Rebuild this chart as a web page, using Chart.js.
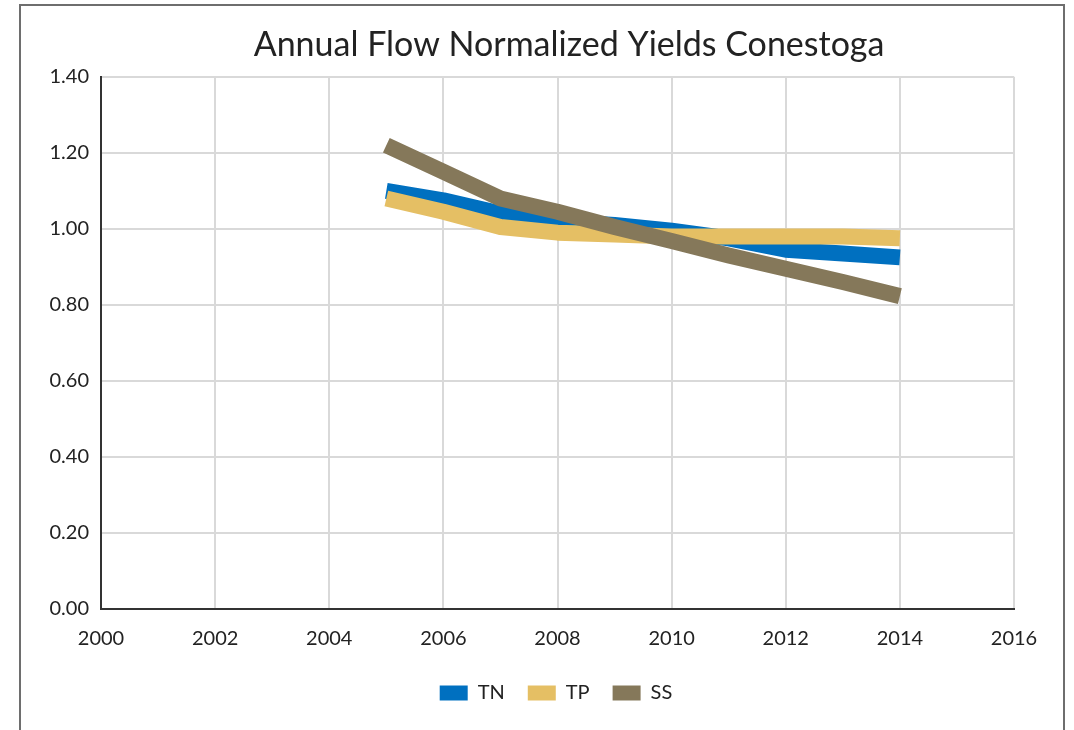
<!DOCTYPE html>
<html>
<head>
<meta charset="utf-8">
<script src="https://cdn.jsdelivr.net/npm/chart.js@4/dist/chart.umd.min.js"></script>
<style>
  html, body { margin: 0; padding: 0; background: #fff; overflow: hidden; width: 1074px; height: 730px; }
  #frame { position: absolute; left: 19px; top: 4px; width: 1046px; height: 760px; border: 2px solid #6e6e6e; box-sizing: border-box; }
  #wrap { position: absolute; left: 30px; top: 0px; width: 1052px; height: 730px; }
</style>
</head>
<body>
<div id="frame"></div>
<div id="wrap"><canvas id="c" width="1052" height="730"></canvas></div>
<script>
const years = [2005, 2006, 2007, 2008, 2009, 2010, 2011, 2012, 2013, 2014];
const tnValues = [1.10, 1.075, 1.04, 1.02, 1.01, 0.995, 0.975, 0.945, 0.935, 0.925];
const tpValues = [1.08, 1.045, 1.005, 0.99, 0.985, 0.98, 0.98, 0.98, 0.98, 0.975];
const ssValues = [1.22, 1.15, 1.08, 1.045, 1.005, 0.968, 0.93, 0.895, 0.86, 0.823];
const seriesNames = ['TN', 'TP', 'SS'];
const chartTitle = 'Annual Flow Normalized Yields Conestoga';
const xMin = 2000, xMax = 2016, xStep = 2;
const yMin = 0, yMax = 1.4, yStep = 0.2;

const colors = ['#0070C0', '#E5BF64', '#85785A'];
const toPts = vals => years.map((y, i) => ({ x: y, y: vals[i] }));

const font = 'Lato, "Open Sans", sans-serif';

new Chart(document.getElementById('c'), {
  type: 'line',
  data: {
    datasets: [
      { label: seriesNames[0], data: toPts(tnValues), borderColor: colors[0], backgroundColor: colors[0], order: 3 },
      { label: seriesNames[1], data: toPts(tpValues), borderColor: colors[1], backgroundColor: colors[1], order: 2 },
      { label: seriesNames[2], data: toPts(ssValues), borderColor: colors[2], backgroundColor: colors[2], order: 1 }
    ]
  },
  options: {
    responsive: false,
    animation: false,
    layout: { padding: { left: 0, right: 0, top: 0, bottom: 17 } },
    elements: {
      line: { borderWidth: 16, tension: 0, borderCapStyle: 'butt', borderJoinStyle: 'round', fill: false },
      point: { radius: 0, hoverRadius: 0 }
    },
    plugins: {
      title: {
        display: true,
        text: '   ' + chartTitle,
        color: '#222',
        font: { family: font, size: 34, weight: 'normal' },
        padding: { top: 25, bottom: 11 }
      },
      legend: {
        position: 'bottom',
        labels: {
          color: '#222',
          font: { family: font, size: 20 },
          boxWidth: 28,
          boxHeight: 15,
          padding: 23,
          sort: (a, b) => a.datasetIndex - b.datasetIndex,
          generateLabels: (chart) => Chart.defaults.plugins.legend.labels.generateLabels(chart)
            .map(l => Object.assign(l, { lineWidth: 0, fillStyle: colors[l.datasetIndex], strokeStyle: colors[l.datasetIndex] }))
        }
      },
      tooltip: { enabled: false }
    },
    scales: {
      x: {
        type: 'linear',
        min: xMin, max: xMax,
        ticks: {
          stepSize: xStep,
          color: '#222',
          font: { family: font, size: 20 },
          padding: 18,
          callback: v => String(v)
        },
        grid: { color: '#d9d9d9', lineWidth: 2, drawTicks: false },
        border: { color: '#333', width: 2 },
        afterFit: s => { s.height = 51; }
      },
      y: {
        min: yMin, max: yMax,
        ticks: {
          stepSize: yStep,
          color: '#222',
          font: { family: font, size: 20 },
          padding: 12,
          callback: v => Number(v).toFixed(2)
        },
        grid: { color: '#d9d9d9', lineWidth: 2, drawTicks: false },
        border: { color: '#333', width: 2 },
        afterFit: s => { s.width = 71; }
      },
      yRightSpace: {
        position: 'right',
        display: true,
        min: 0, max: 1,
        ticks: { display: false },
        grid: { display: false, drawTicks: false },
        border: { display: false },
        afterFit: s => { s.width = 68; }
      }
    }
  }
});
</script>
</body>
</html>
